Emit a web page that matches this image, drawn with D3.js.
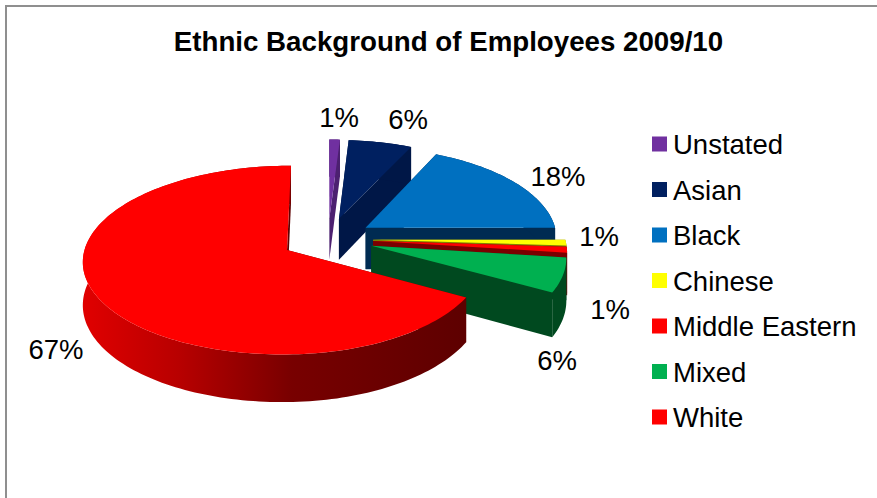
<!DOCTYPE html>
<html>
<head>
<meta charset="utf-8">
<script src="https://cdn.jsdelivr.net/npm/d3@7"></script>
<style>
  html, body { margin: 0; padding: 0; background: #fff; }
  svg { display: block; }
  text { font-family: "Liberation Sans", Arial, sans-serif; fill: #000; }
</style>
</head>
<body>
<svg id="chart" width="877" height="498"></svg>
<script>
const chartTitle = "Ethnic Background of Employees 2009/10";
const categories = ["Unstated", "Asian", "Black", "Chinese", "Middle Eastern", "Mixed", "White"];
const shares = [1, 6, 18, 1, 1, 6, 67];
const topColors = ["#7030a0", "#002060", "#0070c0", "#ffff00", "#ff0000", "#00b050", "#ff0000"];
const wallColors = ["#4c2070", "#001747", "#002b52", "#808000", "#7a0000", "#00491f", "#5e0000"];
const legendColors = ["#7030a0", "#002060", "#0070c0", "#ffff00", "#ff0000", "#00b050", "#ff0000"];
const labelAnchors = [[339, 127], [408, 129], [558, 186], [599, 246], [610, 319], [557, 370], [56, 359]];

const svg = d3.select("#chart");
const defs = svg.append("defs");

// Frame: only the top and left edges of the chart area are in view.
svg.append("path")
  .attr("d", "M6,498V6H877")
  .attr("fill", "none")
  .attr("stroke", "#8f8f8f")
  .attr("stroke-width", 2);

svg.append("text")
  .attr("x", 448.5).attr("y", 51)
  .attr("text-anchor", "middle")
  .attr("font-size", 27.7)
  .attr("font-weight", "bold")
  .text(chartTitle);

// Pie plane coordinates: X to the right, Y towards the viewer, radius 1.
const pieCentre = [328, 239];
const radiusLeft = 200, radiusRight = 192, radiusY = 91, perspective = 0.105;
const thickness = 42, explode = 0.235;

const project = (X, Y, z = 0) => {
  const s = 1 / (1 - perspective * Y);
  return [pieCentre[0] + (X < 0 ? radiusLeft : radiusRight) * X * s,
          pieCentre[1] + radiusY * Y * s + z * thickness * s];
};

const arcs = d3.pie().sort(null).value(d => d)(shares);
const line = d3.line();

// Slices are painted clockwise from the back, so nearer ones overlap farther ones.
arcs.forEach((a, i) => {
  const mid = (a.startAngle + a.endAngle) / 2;
  const ox = explode * Math.sin(mid), oy = -explode * Math.cos(mid);
  const onRim = (t, z) => project(ox + Math.sin(t), oy - Math.cos(t), z);
  const apex = z => project(ox, oy, z);
  const steps = d3.range(0, 1.0001, 1 / Math.max(4, Math.ceil((a.endAngle - a.startAngle) * 40)))
    .map(d3.interpolateNumber(a.startAngle, a.endAngle));

  const g = svg.append("g").attr("class", "slice");

  // The cut faces running from the apex to the rim.
  [a.startAngle, a.endAngle].forEach(t => {
    g.append("path")
      .attr("d", line([apex(0), onRim(t, 0), onRim(t, 1), apex(1)]) + "Z")
      .attr("fill", wallColors[i]);
  });

  // Outer rim; the large slice is shaded across its width.
  let rimFill = wallColors[i];
  if (categories[i] === "White") {
    const grad = defs.append("linearGradient")
      .attr("id", "rimShade")
      .attr("gradientUnits", "userSpaceOnUse")
      .attr("x1", 84).attr("x2", 462).attr("y1", 0).attr("y2", 0);
    [[0, "#e00000"], [0.25, "#b80000"], [0.55, "#780000"], [1, "#5e0000"]].forEach(([o, c]) =>
      grad.append("stop").attr("offset", o).attr("stop-color", c));
    rimFill = "url(#rimShade)";
  }
  g.append("path")
    .attr("d", line(steps.map(t => onRim(t, 0)).concat(steps.slice().reverse().map(t => onRim(t, 1)))) + "Z")
    .attr("fill", rimFill);

  // Top face.
  g.append("path")
    .attr("d", line([apex(0)].concat(steps.map(t => onRim(t, 0)))) + "Z")
    .attr("fill", topColors[i]);
});

svg.append("g").selectAll("text")
  .data(arcs)
  .join("text")
  .attr("x", (d, i) => labelAnchors[i][0])
  .attr("y", (d, i) => labelAnchors[i][1])
  .attr("text-anchor", "middle")
  .attr("font-size", 27.5)
  .text(d => d.value + "%");

// Legend
const legendY = d3.scalePoint().domain(categories).range([144, 417]);
const legend = svg.append("g").selectAll("g")
  .data(categories)
  .join("g")
  .attr("transform", d => `translate(652,${legendY(d)})`);
legend.append("rect")
  .attr("x", 0).attr("y", -7.5)
  .attr("width", 15).attr("height", 15)
  .attr("fill", (d, i) => legendColors[i]);
legend.append("text")
  .attr("x", 21).attr("y", 10)
  .attr("font-size", 27.5)
  .text(d => d);
</script>
</body>
</html>
